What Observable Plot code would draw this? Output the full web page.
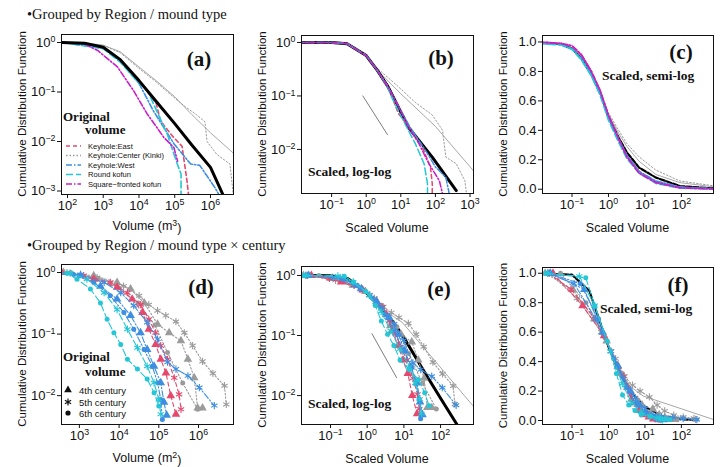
<!DOCTYPE html>
<html><head><meta charset="utf-8">
<script src="https://cdn.jsdelivr.net/npm/d3@7"></script>
<script src="https://cdn.jsdelivr.net/npm/@observablehq/plot@0.6"></script>
<style>
body{margin:0;background:#fff;}
#wrap{position:relative;width:728px;height:467px;overflow:hidden;background:#fff;}
.pan{position:absolute;}
#ov{position:absolute;left:0;top:0;pointer-events:none;}
</style></head><body><div id="wrap"></div>
<script>
// ---------------- DATA ----------------
// Panel (a): original volume (m^3) vs CDF
const aBlackV = [70, 300, 1000, 3000, 10000, 30000, 100000, 300000, 1000000, 2300000];
const aBlackP = [1, 0.97, 0.8, 0.45, 0.17, 0.065, 0.023, 0.0085, 0.003, 0.0008];
const aAllV = [70, 300, 1000, 3000, 10000, 30000, 100000, 300000, 1000000, 4400000];
const aAllP = [1, 0.98, 0.88, 0.65, 0.32, 0.17, 0.08, 0.035, 0.015, 0.0058];
const aCenterV = [70, 1000, 3000, 10000, 30000, 100000, 200000, 400000, 700000, 800000, 1500000, 3500000, 4300000];
const aCenterP = [1, 0.88, 0.62, 0.3, 0.16, 0.075, 0.05, 0.035, 0.025, 0.01, 0.0055, 0.0035, 0.0009];
const aEastV = [70, 300, 1000, 3000, 10000, 30000, 40000, 85000, 160000, 220000, 250000];
const aEastP = [1, 0.96, 0.78, 0.45, 0.17, 0.06, 0.026, 0.013, 0.008, 0.0016, 0.0007];
const aWestV = [70, 1000, 3000, 10000, 25000, 95000, 280000, 500000, 1300000, 2000000];
const aWestP = [1, 0.77, 0.42, 0.15, 0.042, 0.009, 0.0035, 0.0033, 0.0012, 0.0007];
const aRoundV = [70, 1000, 3000, 10000, 17000, 32000, 62000, 118000, 150000, 150000];
const aRoundP = [1, 0.75, 0.4, 0.15, 0.11, 0.04, 0.014, 0.0035, 0.0022, 0.0007];
const aSquareV = [70, 300, 700, 2500, 7000, 17000, 32000, 50000, 95000, 120000];
const aSquareP = [1, 0.93, 0.69, 0.32, 0.107, 0.036, 0.019, 0.012, 0.0075, 0.004];
const legendA = ["Keyhole:East", "Keyhole:Center (Kinki)", "Keyhole:West", "Round kofun", "Square\u2212fronted kofun"];

// Panel (b): scaled volume, log-log
const bBlackV = [0.01, 0.1, 0.28, 1, 2.1, 4.3, 16.6, 81, 400];
const bBlackP = [1, 1, 0.95, 0.57, 0.3, 0.148, 0.026, 0.0072, 0.0017];
const bAllV = [0.01, 0.1, 0.28, 1, 1.7, 10, 100, 1250];
const bAllP = [1, 1, 0.95, 0.57, 0.35, 0.11, 0.027, 0.004];
const bCenterV = [0.01, 0.1, 0.28, 1, 1.7, 6.8, 26, 81, 160, 200, 400, 710, 790];
const bCenterP = [1, 1, 0.95, 0.57, 0.37, 0.17, 0.076, 0.044, 0.023, 0.0072, 0.0054, 0.0026, 0.0015];
const bEastV = [0.01, 0.1, 0.28, 1, 2.1, 4.3, 8.5, 21, 42, 72, 81, 81];
const bEastP = [1, 1, 0.95, 0.57, 0.3, 0.15, 0.047, 0.023, 0.011, 0.0047, 0.0023, 0.0015];
const bRoundV = [0.01, 0.1, 0.28, 1, 2.1, 4.3, 5.4, 10.5, 26, 47, 59, 59];
const bRoundP = [1, 1, 0.95, 0.57, 0.3, 0.14, 0.096, 0.04, 0.013, 0.0054, 0.0023, 0.0015];
const bSquareV = [0.01, 0.1, 0.28, 1, 2.1, 4.3, 9, 16.6, 33, 65, 130, 160];
const bSquareP = [1, 1, 0.95, 0.57, 0.3, 0.145, 0.06, 0.026, 0.013, 0.0054, 0.0026, 0.0015];
const bWestV = [0.01, 0.1, 0.28, 1, 2.1, 4.3, 9, 20, 52, 100, 200, 250];
const bWestP = [1, 1, 0.95, 0.57, 0.3, 0.148, 0.06, 0.024, 0.0095, 0.0047, 0.003, 0.0015];
const bRefV = [0.8, 4.1];
const bRefP = [0.1, 0.019];

// Panel (c): scaled volume, semi-log
const cV = [0.012, 0.05, 0.1, 0.18, 0.34, 0.59, 1, 1.9, 3.2, 6.9, 20, 91, 780];
const cBlackP = [0.995, 0.985, 0.955, 0.89, 0.78, 0.655, 0.49, 0.35, 0.25, 0.147, 0.079, 0.022, 0.005];
const cAllP = [0.995, 0.985, 0.955, 0.89, 0.78, 0.66, 0.51, 0.38, 0.29, 0.19, 0.10, 0.045, 0.016];
const cCenterP = [0.995, 0.985, 0.955, 0.89, 0.78, 0.66, 0.52, 0.40, 0.31, 0.22, 0.13, 0.056, 0.023];
const cEastP = [1.0, 0.99, 0.97, 0.91, 0.80, 0.67, 0.50, 0.34, 0.23, 0.12, 0.05, 0.012, 0.002];
const cWestP = [0.995, 0.985, 0.955, 0.89, 0.78, 0.655, 0.49, 0.34, 0.23, 0.12, 0.055, 0.015, 0.003];
const cRoundP = [0.99, 0.98, 0.95, 0.88, 0.77, 0.64, 0.47, 0.32, 0.21, 0.11, 0.04, 0.008, 0.001];
const cSquareP = [1.0, 0.99, 0.975, 0.915, 0.80, 0.67, 0.50, 0.34, 0.22, 0.11, 0.045, 0.01, 0.002];

// Panel (d): original volume by region/type x century
const dC5V = [490, 2800, 13000, 32000, 56000, 93000, 150000, 270000, 440000, 710000, 1260000, 2300000, 4500000, 5000000];
const dC5P = [1.0, 0.83, 0.60, 0.42, 0.30, 0.24, 0.20, 0.16, 0.105, 0.065, 0.036, 0.023, 0.0145, 0.0072];
const dC4V = [400, 2300, 8900, 19500, 43000, 93000, 182000, 360000, 540000, 780000, 950000, 1260000];
const dC4P = [1.0, 0.89, 0.69, 0.54, 0.32, 0.145, 0.105, 0.078, 0.039, 0.0195, 0.0063, 0.0063];
const dC6V = [600, 3000, 10000, 30000, 80000, 166000, 400000, 950000];
const dC6P = [1.0, 0.8, 0.56, 0.32, 0.14, 0.05, 0.016, 0.006];
const dE5V = [320, 1290, 6000, 16200, 35000, 56000, 83000, 112000, 166000, 245000, 324000, 363000];
const dE5P = [1.0, 0.89, 0.69, 0.47, 0.30, 0.174, 0.105, 0.065, 0.039, 0.0195, 0.0105, 0.006];
const dE4V = [355, 2300, 8900, 21400, 39000, 56000, 83000, 112000, 151000, 200000, 270000];
const dE4P = [1.0, 0.78, 0.575, 0.37, 0.224, 0.12, 0.068, 0.039, 0.0234, 0.01, 0.005];
const dW5V = [200, 1070, 4200, 11000, 23400, 51000, 93000, 166000, 270000, 540000, 1050000, 2500000];
const dW5P = [1.0, 0.93, 0.69, 0.47, 0.29, 0.155, 0.083, 0.035, 0.027, 0.021, 0.0135, 0.0069];
const dW4V = [125, 1070, 3400, 8900, 19500, 34700, 51000, 76000, 112000, 135000, 158000];
const dW4P = [1.0, 0.89, 0.60, 0.37, 0.20, 0.105, 0.056, 0.030, 0.0162, 0.0078, 0.0048];
const dW6V = [100, 720, 2300, 6000, 13200, 23400, 42700, 69000, 93000, 112000, 123000];
const dW6P = [1.0, 0.93, 0.69, 0.42, 0.224, 0.12, 0.056, 0.030, 0.0162, 0.0087, 0.0041];
const dR6V = [40, 490, 870, 1900, 3400, 5000, 7400, 11000, 16200, 29000, 51000, 76000, 100000];
const dR6P = [1.0, 0.97, 0.78, 0.54, 0.32, 0.174, 0.105, 0.068, 0.039, 0.027, 0.0186, 0.0112, 0.0068];
const dR5V = [80, 590, 1550, 4200, 8900, 16200, 29000, 51000, 76000, 100000, 112000];
const dR5P = [1.0, 0.98, 0.78, 0.47, 0.25, 0.12, 0.06, 0.030, 0.0162, 0.0087, 0.005];
// median volume of each group used for scaling (same order as dGroups below)
const dScale = [20400, 21900, 12400, 13800, 11800, 9400, 4900, 4300, 2060, 3720];
const legendD = ["4th century", "5th century", "6th century"];

// Panel (e)/(f) reference curves
const eBlackV = [0.01, 0.1, 0.3, 1, 2, 5, 10, 30, 100, 280];
const eBlackP = [1, 0.99, 0.88, 0.5, 0.32, 0.17, 0.093, 0.03, 0.009, 0.0033];
const eAllV = [0.01, 0.1, 0.3, 1, 2, 4, 9, 760];
const eAllP = [1, 0.99, 0.88, 0.5, 0.34, 0.23, 0.166, 0.0068];
const eRefV = [1.35, 6.3];
const eRefP = [0.107, 0.02];

// ---------------- STYLE ----------------
const RED = "#e5486c", BLUE = "#3d8ee0", CYAN = "#25c6d6", MAG = "#c81ec8", GRAY = "#9b9b9b", LGRAY = "#a8a8a8";
const SANS = "'Liberation Sans', Arial, sans-serif";
const SERIF = "'Liberation Serif', 'DejaVu Serif', serif";
const DASH = {red: "4,3", gray: "1.5,2", blue: "6,2,1.5,2", cyan: "7,3", mag: "6,2,1.5,2"};

const pts = (xs, ys) => xs.map((x, i) => ({x, y: ys[i]}));
const pow10 = d => { const e = Math.round(Math.log10(d)); return "10^" + (e < 0 ? "\u2212" + (-e) : e); };

const dGroups = [
  {v: dC5V, p: dC5P, color: GRAY, dash: DASH.gray, sym: "asterisk"},
  {v: dC4V, p: dC4P, color: GRAY, dash: DASH.gray, sym: "triangle"},
  {v: dC6V, p: dC6P, color: GRAY, dash: DASH.gray, sym: "circle"},
  {v: dE5V, p: dE5P, color: RED, dash: DASH.red, sym: "asterisk"},
  {v: dE4V, p: dE4P, color: RED, dash: DASH.red, sym: "triangle"},
  {v: dW5V, p: dW5P, color: BLUE, dash: DASH.blue, sym: "asterisk"},
  {v: dW4V, p: dW4P, color: BLUE, dash: DASH.blue, sym: "triangle"},
  {v: dW6V, p: dW6P, color: BLUE, dash: DASH.blue, sym: "circle"},
  {v: dR6V, p: dR6P, color: CYAN, dash: DASH.cyan, sym: "circle"},
  {v: dR5V, p: dR5P, color: CYAN, dash: DASH.cyan, sym: "asterisk"}
];

function ln(xs, ys, stroke, w, dash) {
  return Plot.line(pts(xs, ys), {x: "x", y: "y", stroke, strokeWidth: w, strokeDasharray: dash, clip: true});
}
function groupMarks(scaled) {
  const m = [];
  dGroups.forEach((g, i) => {
    const xs = scaled ? g.v.map(v => v / dScale[i]) : g.v;
    const data = pts(xs, g.p);
    m.push(Plot.line(data, {x: "x", y: "y", stroke: g.color, strokeWidth: 1.1, strokeDasharray: g.dash, clip: true}));
    if (g.sym === "asterisk") m.push(Plot.dot(data, {x: "x", y: "y", symbol: "asterisk", stroke: g.color, strokeWidth: 1.1, r: 3.4, clip: true}));
    else m.push(Plot.dot(data, {x: "x", y: "y", symbol: g.sym, fill: g.color, stroke: "none", r: g.sym === "triangle" ? 3.2 : 2.5, clip: true}));
  });
  return m;
}

const wrap = document.getElementById("wrap");
const panels = [];
function makePanel(cfg) {
  const ML = 61, MR = 8, MT = 12, MB = 30;
  const [l, t, r, b] = cfg.frame;
  const W = r - l + ML + MR, H = b - t + MT + MB;
  const yScale = cfg.yLog
    ? {type: "log", domain: cfg.yDomain, ticks: cfg.yTicks, tickFormat: pow10, tickSize: 4, tickPadding: 2, label: null}
    : {type: "linear", domain: cfg.yDomain, ticks: cfg.yTicks, tickFormat: d3.format(".1f"), tickSize: 4, tickPadding: 2, label: null};
  const svg = Plot.plot({
    width: W, height: H, marginLeft: ML, marginRight: MR, marginTop: MT, marginBottom: MB,
    style: {fontFamily: SANS, fontSize: "13px", color: "#111", background: "transparent", overflow: "visible"},
    x: {type: "log", domain: cfg.xDomain, ticks: cfg.xTicks, tickFormat: pow10, tickSize: 4, tickPadding: 2, label: null},
    y: yScale,
    marks: [...cfg.marks, Plot.frame({stroke: "#111", strokeWidth: 1})]
  });
  const NS = "http://www.w3.org/2000/svg";
  svg.querySelectorAll("text").forEach(tx => {
    const m = tx.textContent.match(/^10\^(.+)$/);
    if (m && tx.children.length === 0) {
      tx.textContent = "10";
      const ts = document.createElementNS(NS, "tspan");
      ts.setAttribute("dy", "-0.5em");
      ts.setAttribute("font-size", "0.68em");
      ts.textContent = m[1];
      tx.appendChild(ts);
    }
  });
  const div = document.createElement("div");
  div.className = "pan";
  div.style.left = (l - ML) + "px";
  div.style.top = (t - MT) + "px";
  div.appendChild(svg);
  wrap.appendChild(div);
  panels.push(cfg);
}

// (a)
makePanel({
  frame: [61, 34, 233, 194], xDomain: [68, 4.4e6], xTicks: [1e2, 1e3, 1e4, 1e5, 1e6],
  yLog: true, yDomain: [8.5e-4, 1.45], yTicks: [1, 0.1, 0.01, 0.001], xLabel: "Volume (m\u00b3)", xLabelY: 230,
  marks: [
    ln(aAllV, aAllP, LGRAY, 1),
    ln(aCenterV, aCenterP, GRAY, 1, DASH.gray),
    ln(aEastV, aEastP, RED, 1.6, DASH.red),
    ln(aWestV, aWestP, BLUE, 1.6, DASH.blue),
    ln(aRoundV, aRoundP, CYAN, 1.6, DASH.cyan),
    ln(aSquareV, aSquareP, MAG, 1.6, DASH.mag),
    ln(aBlackV, aBlackP, "#000", 3)
  ]
});
// (b)
makePanel({
  frame: [301, 35, 473, 193], xDomain: [0.0135, 1260], xTicks: [0.1, 1, 10, 100, 1000],
  yLog: true, yDomain: [1.5e-3, 1.35], yTicks: [1, 0.1, 0.01], xLabel: "Scaled Volume", xLabelY: 232,
  marks: [
    ln(bAllV, bAllP, LGRAY, 1),
    ln(bCenterV, bCenterP, GRAY, 1, DASH.gray),
    ln(bBlackV, bBlackP, "#000", 3),
    ln(bEastV, bEastP, RED, 1.5, DASH.red),
    ln(bWestV, bWestP, BLUE, 1.5, DASH.blue),
    ln(bRoundV, bRoundP, CYAN, 1.5, DASH.cyan),
    ln(bSquareV, bSquareP, MAG, 1.5, DASH.mag),
    ln(bRefV, bRefP, "#444", 0.7)
  ]
});
// (c)
makePanel({
  frame: [542, 35, 713, 193], xDomain: [0.0155, 760], xTicks: [0.1, 1, 10, 100],
  yLog: false, yDomain: [-0.029, 1.044], yTicks: [0, 0.2, 0.4, 0.6, 0.8, 1], xLabel: "Scaled Volume", xLabelY: 232,
  marks: [
    ln(cV, cAllP, LGRAY, 1),
    ln(cV, cCenterP, GRAY, 1, DASH.gray),
    ln(cV, cBlackP, "#000", 2.2, "5,2"),
    ln(cV, cEastP, RED, 1.8, DASH.red),
    ln(cV, cWestP, BLUE, 1.8, DASH.blue),
    ln(cV, cRoundP, CYAN, 1.8, DASH.cyan),
    ln(cV, cSquareP, MAG, 1.8, DASH.mag)
  ]
});
// (d)
makePanel({
  frame: [61, 264, 233, 424], xDomain: [355, 7.6e6], xTicks: [1e3, 1e4, 1e5, 1e6],
  yLog: true, yDomain: [3.4e-3, 1.35], yTicks: [1, 0.1, 0.01], xLabel: "Volume (m\u00b2)", xLabelY: 462,
  marks: groupMarks(false)
});
// (e)
makePanel({
  frame: [301, 266, 473, 424], xDomain: [0.0162, 790], xTicks: [0.1, 1, 10, 100],
  yLog: true, yDomain: [3.3e-3, 1.41], yTicks: [1, 0.1, 0.01], xLabel: "Scaled Volume", xLabelY: 463,
  marks: [
    ln(eAllV, eAllP, LGRAY, 1),
    ln(eBlackV, eBlackP, "#000", 3),
    ...groupMarks(true),
    ln(eRefV, eRefP, "#444", 0.7)
  ]
});
// (f)
makePanel({
  frame: [542, 267, 713, 424], xDomain: [0.0155, 760], xTicks: [0.1, 1, 10, 100],
  yLog: false, yDomain: [-0.027, 1.039], yTicks: [0, 0.2, 0.4, 0.6, 0.8, 1], xLabel: "Scaled Volume", xLabelY: 463,
  marks: [
    ln(eAllV, eAllP, LGRAY, 1),
    ln(eBlackV, eBlackP, "#000", 2.2, "5,2"),
    ...groupMarks(true)
  ]
});

// ---------------- ANNOTATIONS ----------------
const ov = d3.select(wrap).append("svg").attr("id", "ov").attr("width", 728).attr("height", 467);
function txt(x, y, s, o = {}) {
  const t = ov.append("text").attr("x", x).attr("y", y).text(s)
    .attr("font-family", o.family || SERIF).attr("font-size", o.size || 14)
    .attr("font-weight", o.weight || "normal").attr("text-anchor", o.anchor || "start")
    .attr("dominant-baseline", o.base || "auto").attr("fill", "#111");
  if (o.rotate) t.attr("transform", `rotate(${o.rotate},${x},${y})`);
  return t;
}
// axis titles
panels.forEach(p => {
  const [l, t, r, b] = p.frame;
  txt(l - 39, (t + b) / 2, "Cumulative Distribution Function", {family: SANS, size: 11.5, anchor: "middle", base: "central", rotate: -90});
  const xl = txt((l + r) / 2, p.xLabelY, "", {family: SANS, size: 12.5, anchor: "middle"});
  const m = p.xLabel.match(/^(.*)\(m(.)\)$/);
  if (m) {
    xl.append("tspan").text(m[1] + "(m");
    xl.append("tspan").attr("dy", "-0.45em").attr("font-size", "0.7em").text(m[2] === "\u00b3" ? "3" : "2");
    xl.append("tspan").attr("dy", "0.45em").text(")");
  } else xl.text(p.xLabel);
});

txt(27, 19, "\u2022Grouped by Region / mound type", {size: 14.5});
txt(27, 250, "\u2022Grouped by Region / mound type \u00d7 century", {size: 14.5});
const tags = [["(a)", 199, 59], ["(b)", 441, 58], ["(c)", 681, 52], ["(d)", 201, 287], ["(e)", 439, 289], ["(f)", 678, 285]];
tags.forEach(([s, x, y]) => txt(x, y, s, {size: 21, weight: "bold", anchor: "middle", base: "central"}));
txt(63, 121, "Original", {size: 13, weight: "bold"});
txt(85, 134, "volume", {size: 13, weight: "bold"});
txt(63, 361, "Original", {size: 13, weight: "bold"});
txt(85, 376, "volume", {size: 13, weight: "bold"});
txt(308, 176, "Scaled, log-log", {size: 13.5, weight: "bold"});
txt(602, 80, "Scaled, semi-log", {size: 13.5, weight: "bold"});
txt(308, 408, "Scaled, log-log", {size: 13.5, weight: "bold"});
txt(600, 313, "Scaled, semi-log", {size: 13.5, weight: "bold"});

// legend (a)
const legA = [[RED, DASH.red], [GRAY, DASH.gray], [BLUE, DASH.blue], [CYAN, DASH.cyan], [MAG, DASH.mag]];
const legAy = [146, 155.5, 165, 174.5, 184];
legendA.forEach((s, i) => {
  ov.append("line").attr("x1", 66).attr("x2", 81).attr("y1", legAy[i]).attr("y2", legAy[i])
    .attr("stroke", legA[i][0]).attr("stroke-width", 1.3).attr("stroke-dasharray", legA[i][1]);
  txt(88, legAy[i], s, {family: SANS, size: 7.6, base: "central"});
});
// legend (d)
const legDy = [390, 402, 413];
legendD.forEach((s, i) => {
  const cx = 68, cy = legDy[i];
  if (i === 0) ov.append("path").attr("d", d3.symbol(d3.symbolTriangle, 26)()).attr("transform", `translate(${cx},${cy})`).attr("fill", "#111");
  else if (i === 1) {
    const r = 3.6;
    const p = [0, 60, 120].map(a => { const t = a * Math.PI / 180; return `M${cx - r * Math.sin(t)},${cy - r * Math.cos(t)}L${cx + r * Math.sin(t)},${cy + r * Math.cos(t)}`; }).join("");
    ov.append("path").attr("d", p).attr("stroke", "#111").attr("stroke-width", 1.2);
  } else ov.append("circle").attr("cx", cx).attr("cy", cy).attr("r", 2.6).attr("fill", "#111");
  txt(79, cy, s, {family: SANS, size: 9.5, base: "central"});
});
</script></body></html>
